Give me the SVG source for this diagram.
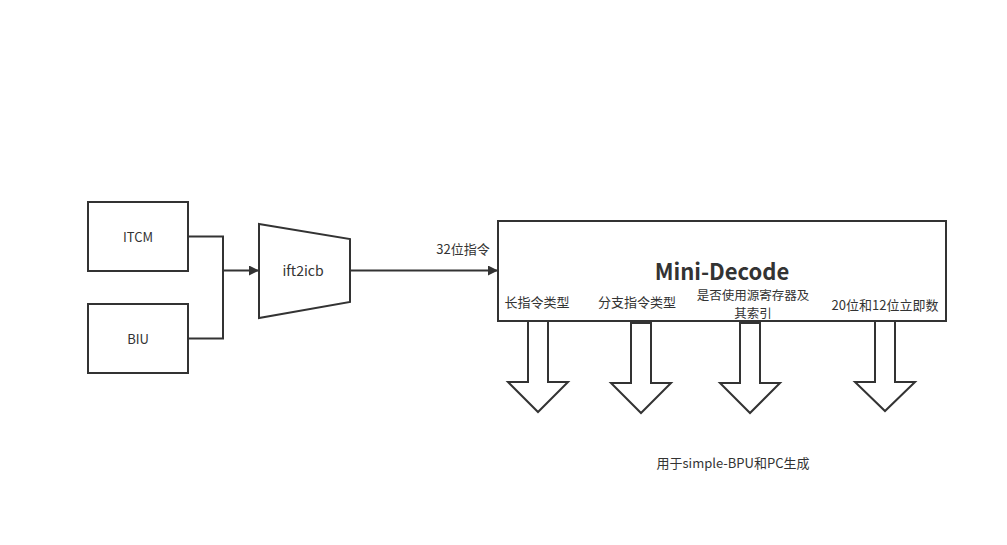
<svg xmlns="http://www.w3.org/2000/svg" width="1007" height="545" viewBox="0 0 1007 545">
<style>
.s{fill:#fff;stroke:#333;stroke-width:2}
.l{fill:none;stroke:#333;stroke-width:2}
.t{font-family:"Noto Sans CJK SC","Noto Sans",sans-serif;font-size:13px;fill:#333;text-anchor:middle}
.b{font-family:"Noto Sans CJK SC","Noto Sans",sans-serif;font-size:22px;font-weight:bold;fill:#333;text-anchor:middle}
</style>
<defs>
<marker id="ah" markerWidth="10" markerHeight="10" refX="9" refY="5" orient="auto" markerUnits="userSpaceOnUse">
<path d="M0,0 L10,5 L0,10 Z" fill="#333"/>
</marker>
</defs>
<rect width="1007" height="545" fill="#fff"/>
<g id="connectors">
<polyline class="l" points="188,236.5 223,236.5 223,338.5 188,338.5"/>
<line class="l" x1="223" y1="270.5" x2="258" y2="270.5" marker-end="url(#ah)"/>
<line class="l" x1="350" y1="270.5" x2="497" y2="270.5" marker-end="url(#ah)"/>
<text class="t" x="463" y="254">32位指令</text>
</g>
<g id="itcm"><rect class="s" x="88" y="202" width="100" height="69"/><text class="t" x="138" y="242">ITCM</text></g>
<g id="biu"><rect class="s" x="88" y="304" width="100" height="69"/><text class="t" x="138" y="344">BIU</text></g>
<g id="ift2icb"><polygon class="s" points="259,224 350,239 350,302 259,318"/><text class="t" x="303" y="276" style="font-size:14px">ift2icb</text></g>
<g id="minidecode">
<rect class="s" x="498" y="221" width="448" height="100"/>
<text class="b" x="722" y="280">Mini-Decode</text>
<text class="t" x="537" y="307">长指令类型</text>
<text class="t" x="637" y="307">分支指令类型</text>
<text class="t" x="753" y="300" style="font-size:12.5px">是否使用源寄存器及<tspan x="753" dy="17.5">其索引</tspan></text>
<text class="t" x="885" y="310">20位和12位立即数</text>
</g>
<g id="arrow1"><polygon class="s" points="528,321 548,321 548,382 568,382 538,412 508,382 528,382"/></g>
<g id="arrow2"><polygon class="s" points="631,323 651,323 651,383 671,383 641,413 611,383 631,383"/></g>
<g id="arrow3"><polygon class="s" points="740,323 760,323 760,383 780,383 750,413 720,383 740,383"/></g>
<g id="arrow4"><polygon class="s" points="875,321 895,321 895,382 915,382 885,411 855,382 875,382"/></g>
<g id="note"><text class="t" x="733" y="468">用于simple-BPU和PC生成</text></g>
</svg>
